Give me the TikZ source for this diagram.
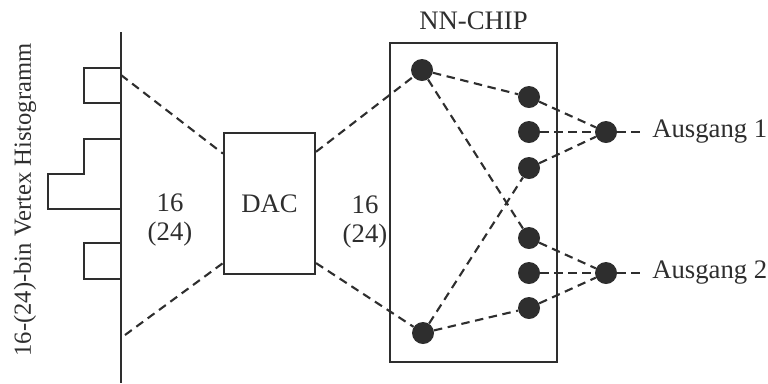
\documentclass[tikz,border=0pt]{standalone}
\usepackage{fontspec}
\setmainfont{Liberation Serif}
\usetikzlibrary{positioning}

\definecolor{colorOne}{HTML}{2E2E2E}
\def\colorOne{colorOne}

\tikzset{
    neuron/.style={circle, fill=\colorOne, draw=none, inner sep=0pt, minimum size=0.55cm},
    dashline/.style={line width=1.5pt, color=\colorOne, dash pattern=on 6pt off 4pt},
    solidline/.style={line width=1.5pt, color=\colorOne},
    boxnode/.style={draw=\colorOne, line width=1.5pt, fill=none, inner sep=0pt},
    labeltext/.style={text=\colorOne, font=\fontsize{19pt}{20pt}\selectfont, inner sep=0pt, align=center},
}

\begin{document}
\begin{tikzpicture}[x=0.025cm, y=-0.025cm]

    \useasboundingbox (0,0) rectangle (768,383);

    % Achse + Histogramm
    \coordinate (axisTop) at (121,32);
    \coordinate (axisBot) at (121,383);
    \draw[solidline] (axisTop) -- (axisBot);

    \draw[solidline] (121,68) -- (84,68) -- (84,103) -- (121,103);
    \draw[solidline] (121,139) -- (84,139) -- (84,174) -- (48,174) -- (48,209) -- (121,209);
    \draw[solidline] (121,243) -- (84,243) -- (84,279) -- (121,279);

    \node[labeltext, font=\fontsize{17.5pt}{19pt}\selectfont, rotate=90] (histLabel) at (25,200) {16-(24)-bin Vertex Histogramm};

    \coordinate (histTop) at (121,75);
    \coordinate (histBot) at (125,335);

    % DAC
    \node[boxnode, minimum width=2.275cm, minimum height=3.525cm, labeltext] (dac) at (269.5,203.5) {DAC};
    \node[labeltext] (inLeft) at (170,220) {16\\(24)};
    \node[labeltext] (inRight) at (365,222) {16\\(24)};

    % Chip
    \node[boxnode, minimum width=4.175cm, minimum height=7.975cm] (chip) at (473.5,202.5) {};
    \node[labeltext, above=0.3cm of chip] (chipLabel) {NN-CHIP};

    \node[neuron] (in1) at (422,70) {};
    \node[neuron] (in2) at (423,333) {};

    \foreach \name/\y in {h1/97, h2/132, h3/168, h4/238, h5/273, h6/308} {
        \node[neuron] (\name) at (529,\y) {};
    }

    \node[neuron] (out1) at (606,132) {};
    \node[neuron] (out2) at (606,273) {};

    \node[labeltext, anchor=west] (lab1) at (652,132) {Ausgang 1};
    \node[labeltext, anchor=west] (lab2) at (652,273) {Ausgang 2};

    % Verbindungen
    \draw[dashline] (histTop) -- (dac.133);
    \draw[dashline] (histBot) -- (dac.232);
    \draw[dashline] (dac.48) -- (in1);
    \draw[dashline] (dac.308) -- (in2);

    \draw[dashline] (in1) -- (h1);
    \draw[dashline] (in1) -- (h4);
    \draw[dashline] (in2) -- (h3);
    \draw[dashline] (in2) -- (h6);

    \foreach \h in {h1, h2, h3} { \draw[dashline] (\h) -- (out1); }
    \foreach \h in {h4, h5, h6} { \draw[dashline] (\h) -- (out2); }

    \draw[dashline, shorten >=0.3cm] (out1) -- (lab1.west);
    \draw[dashline, shorten >=0.3cm] (out2) -- (lab2.west);

\end{tikzpicture}
\end{document}
